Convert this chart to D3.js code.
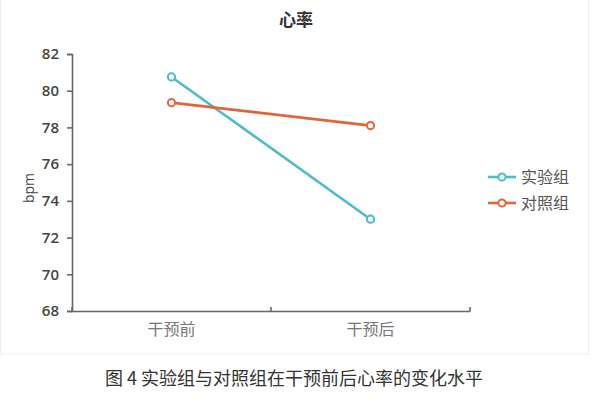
<!DOCTYPE html>
<html>
<head>
<meta charset="utf-8">
<script src="https://cdn.jsdelivr.net/npm/d3@7"></script>
<style>
  body { margin: 0; background: #fff; }
  svg { display: block; }
</style>
</head>
<body>
<svg id="chart" width="600" height="400"></svg>
<script>
// data
var categories = ['干预前', '干预后'];
var seriesNames = ['实验组', '对照组'];
var expValues = [80.75, 73.0];
var ctrlValues = [79.35, 78.1];
var yTicks = [68, 70, 72, 74, 76, 78, 80, 82];
var colors = ['#4bbcc9', '#e0663a'];

var svg = d3.select('#chart');
var margin = {top: 54, left: 72, right: 130, bottom: 89};
var w = 600 - margin.left - margin.right,
  h = 400 - margin.top - margin.bottom;

// panel background with faint border
svg.append('rect').attr('x', 0.5).attr('y', -2).attr('width', 588).attr('height', 356)
  .attr('fill', '#fff').attr('stroke', '#eeeeee');

var g = svg.append('g').attr('transform', `translate(${margin.left}, ${margin.top})`);

var x = d3.scaleBand().domain(categories).range([0, w]);
var y = d3.scaleLinear().domain([68, 82]).range([h, 0]);

// y axis
var yAxis = g.append('g').call(d3.axisLeft(y).tickValues(yTicks).tickSize(5).tickPadding(8));
yAxis.select('.domain').attr('stroke', '#666').attr('stroke-width', 1.6);
yAxis.selectAll('.tick line').attr('stroke', '#666').attr('stroke-width', 1.6);
yAxis.selectAll('text').attr('fill', '#444').style('font-family', 'Open Sans, sans-serif')
  .style('font-size', '15px').style('font-weight', '600');

// x axis, ticks at band edges pointing up
var xAxis = g.append('g').attr('transform', `translate(0, ${h})`)
  .call(d3.axisBottom(x).tickSize(0).tickPadding(13));
xAxis.select('.domain').attr('stroke', '#666').attr('stroke-width', 1.6);
xAxis.selectAll('text').attr('fill', '#777').style('font-family', 'Noto Sans CJK SC').style('font-size', '16px');
g.append('g').selectAll('line')
  .data([0, x.step(), w])
  .join('line')
  .attr('x1', d => d).attr('x2', d => d)
  .attr('y1', h).attr('y2', h - 4)
  .attr('stroke', '#666').attr('stroke-width', 1.6);

// lines
var allSeries = [expValues, ctrlValues];
var line = d3.line().x((d, i) => x(categories[i]) + x.bandwidth() / 2).y(d => y(d));
allSeries.forEach(function(vals, si) {
  g.append('path').datum(vals).attr('d', line)
    .attr('fill', 'none').attr('stroke', colors[si]).attr('stroke-width', 2.6);
  g.selectAll('.pt' + si).data(vals).join('circle')
    .attr('class', 'pt' + si)
    .attr('cx', (d, i) => x(categories[i]) + x.bandwidth() / 2)
    .attr('cy', d => y(d))
    .attr('r', 3.6)
    .attr('fill', '#fff').attr('stroke', colors[si]).attr('stroke-width', 2);
});

// title
svg.append('text').attr('x', 296).attr('y', 26).attr('text-anchor', 'middle')
  .style('font-family', 'Noto Sans CJK SC').style('font-weight', 'bold').style('font-size', '17px')
  .attr('fill', '#333').text('心率');

// y label
svg.append('text').attr('transform', 'translate(34, 188) rotate(-90)').attr('text-anchor', 'middle')
  .style('font-family', 'Open Sans, sans-serif').style('font-size', '14px').attr('fill', '#444').text('bpm');

// legend
var legend = svg.append('g').attr('transform', 'translate(488, 177)');
seriesNames.forEach(function(name, i) {
  var row = legend.append('g').attr('transform', `translate(0, ${i * 26})`);
  row.append('line').attr('x1', 0).attr('x2', 28).attr('stroke', colors[i]).attr('stroke-width', 2.6);
  row.append('circle').attr('cx', 14).attr('r', 3.6).attr('fill', '#fff')
    .attr('stroke', colors[i]).attr('stroke-width', 2);
  row.append('text').attr('x', 33).attr('dy', '0.35em')
    .style('font-family', 'Noto Sans CJK SC').style('font-size', '16px').attr('fill', '#555').text(name);
});

// caption
svg.append('text').attr('x', 294).attr('y', 385).attr('text-anchor', 'middle')
  .style('font-family', 'Noto Sans CJK SC').style('font-size', '18px').attr('fill', '#333')
  .text('图 4 实验组与对照组在干预前后心率的变化水平');
</script>
</body>
</html>
